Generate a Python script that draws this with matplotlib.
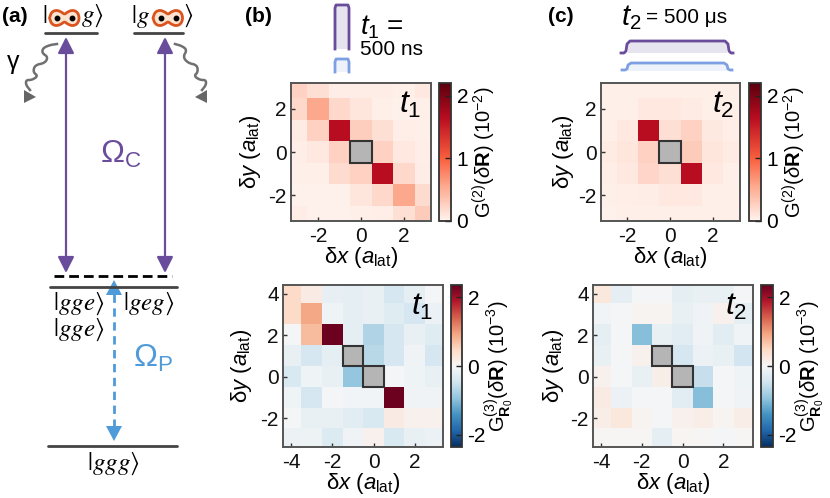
import numpy as np
import matplotlib
matplotlib.use('Agg')
import matplotlib.pyplot as plt
from matplotlib.colors import LinearSegmentedColormap
from matplotlib.patches import Polygon, Rectangle

plt.rcParams['font.family'] = ['Liberation Sans', 'DejaVu Sans']
plt.rcParams['mathtext.fontset'] = 'custom'
plt.rcParams['mathtext.rm'] = 'Liberation Sans'
plt.rcParams['mathtext.it'] = 'Liberation Sans:italic'
plt.rcParams['mathtext.bf'] = 'Liberation Sans:bold'
plt.rcParams['axes.unicode_minus'] = False

W, H = 830, 498
n = np.nan

# heatmap values, rows from top to bottom
g2_t1 = [[.25, .15, .05, .05, .05, .03, .08],
         [.20, .55, .20, .10, .03, .02, .03],
         [.06, .25, 1.65, .28, .15, .04, .03],
         [.04, .08, .25, n, .25, .08, .04],
         [.03, .03, .18, .25, 1.65, .20, .05],
         [.02, .02, .02, .10, .20, .55, .18],
         [.05, .02, .02, .03, .04, .15, .30]]
g2_t2 = [[.03, .03, .03, .03, .03, .03, .03],
         [.03, .03, .08, .08, .06, .03, .03],
         [.03, .08, 1.65, .15, .25, .07, .04],
         [.06, .10, .25, n, .30, .10, .06],
         [.04, .08, .22, .15, 1.65, .08, .03],
         [.03, .04, .05, .08, .08, .03, .03],
         [.02, .03, .03, .03, .03, .03, .03]]
g3_t1 = [[.45, .20, -.20, -.22, -.18, -.40, -.22, -.03],
         [.45, .90, -.10, -.22, -.18, -.28, -.40, -.14],
         [-.02, .75, 2.3, -.22, -.70, -.40, -.18, -.28],
         [-.18, -.40, -.22, n, -.65, -.40, -.09, -.40],
         [-.36, -.10, -.18, -.90, n, -.03, -.10, -.18],
         [-.10, -.40, -.02, -.07, -.07, 2.3, -.09, -.09],
         [-.02, -.18, -.18, -.25, -.36, .20, .10, .10],
         [-.14, -.12, -.32, -.09, .10, -.36, -.18, -.14]]
g3_t2 = [[.25, -.22, -.02, -.02, -.22, -.18, -.18, -.03],
         [-.07, -.02, .06, .06, -.18, -.09, .10, -.22],
         [-.22, -.02, -1.0, -.18, -.25, -.09, -.25, -.09],
         [-.18, -.05, .10, n, -.40, -.14, -.18, -.45],
         [.10, -.03, -.18, .13, n, -.55, -.05, -.10],
         [.20, -.14, -.02, -.05, -.27, -1.0, -.03, -.09],
         [.16, .25, .06, -.03, .10, .16, .06, .16],
         [.03, .02, .02, -.22, .05, .03, -.05, .03]]

g2_ticks = [-2, 0, 2]
g3_xticks = [-4, -2, 0, 2]
g3_yticks = [-2, 0, 2, 4]

PURPLE = '#6a4c9c'
BLUE = '#4f9bd9'
PULSE_BLUE = '#7f9fe3'
LEVEL = '#444444'
SPINE = '#555555'

reds = LinearSegmentedColormap.from_list('g2', [(0, '#fff3ee'), (.25, '#fda98e'), (.45, '#f9603f'),
                                               (.75, '#b80c20'), (1, '#5a000d')])


def px_axes(fig, l, t, r, b, **kw):
    return fig.add_axes([l / W, 1 - b / H, (r - l) / W, (b - t) / H], **kw)


def smooth(pts, k=3):
    # corner cutting so the hand read outlines look round
    pts = np.array(pts, float)
    for _ in range(k):
        q = pts[:-1] * .75 + pts[1:] * .25
        r = pts[:-1] * .25 + pts[1:] * .75
        pts = np.vstack([pts[:1], np.column_stack([q, r]).reshape(-1, 2), pts[-1:]])
    return pts


def heatmap(fig, box, cbox, data, cmap, vmin, vmax, xlim, ylim, extent, xticks, yticks, cticks, gray,
            clabel, clabel_x, ylabel_x, xlabel_y):
    l, t, r, b = box
    ax = px_axes(fig, *box)
    arr = np.array(data, float)
    im = ax.imshow(arr, cmap=cmap, vmin=vmin, vmax=vmax, extent=extent, interpolation='nearest', aspect='auto')
    ax.set_xlim(*xlim)
    ax.set_ylim(*ylim)
    ax.set_xticks(xticks)
    ax.set_yticks(yticks)
    ax.tick_params(direction='in', length=3, width=1, labelsize=15, color='#333333', labelcolor='#111111')
    ax.tick_params(axis='x', pad=4)
    ax.tick_params(axis='y', pad=3)
    for s in ax.spines.values():
        s.set_color(SPINE)
        s.set_linewidth(1.4)
    for gx, gy in gray:
        ax.add_patch(Rectangle((gx - .5, gy - .5), 1, 1, fc='#b5b5b5', ec='#333333', lw=1.5, zorder=3))
    fig.text((l + r) / 2 / W, 1 - xlabel_y / H, r'$\mathrm{\delta}x\ (a_{\mathrm{lat}})$', fontsize=16,
             ha='center', va='center')
    fig.text(ylabel_x / W, 1 - (t + b) / 2 / H, r'$\mathrm{\delta}y\ (a_{\mathrm{lat}})$', fontsize=16,
             rotation=90, ha='center', va='center')
    cax = px_axes(fig, *cbox)
    cb = fig.colorbar(im, cax=cax, ticks=cticks)
    cb.ax.tick_params(direction='in', length=4, width=1, labelsize=15, pad=4, color='#222222')
    cb.outline.set_edgecolor('#333333')
    cb.outline.set_linewidth(1.3)
    fig.text(clabel_x / W, 1 - (t + b) / 2 / H, clabel, rotation=90, ha='center', va='center', fontsize=14.5)
    return ax


fig = plt.figure(figsize=(W / 100, H / 100), dpi=100)

g2_label = r'$\mathrm{G}^{(2)}(\delta\mathbf{R})\ (10^{-2})$'
g3_label = r'$\mathrm{G}^{(3)}_{\mathbf{R}_0}(\delta\mathbf{R})\ (10^{-3})$'
heatmap(fig, (291, 83, 431, 221), (439, 83, 451, 221), g2_t1, reds, 0, 2.2, (-3.25, 3.25), (-3.2, 3.2),
        (-3.5, 3.5, -3.5, 3.5), g2_ticks, g2_ticks, [0, 1, 2], [(0, 0)], g2_label, 484, 250, 258)
heatmap(fig, (601, 83, 740, 221), (749, 83, 761, 221), g2_t2, reds, 0, 2.2, (-3.23, 3.28), (-3.2, 3.2),
        (-3.5, 3.5, -3.5, 3.5), g2_ticks, g2_ticks, [0, 1, 2], [(0, 0)], g2_label, 794, 563, 258)
heatmap(fig, (283, 285, 443, 447), (451, 285, 462, 447), g3_t1, 'RdBu_r', -2.35, 2.35, (-4.4, 3.37), (-3.39, 4.42),
        (-4.5, 3.5, -3.5, 4.5), g3_xticks, g3_yticks, [-2, 0, 2], [(-1, 1), (0, 0)], g3_label, 499, 241, 483)
heatmap(fig, (593, 285, 753, 447), (761, 285, 773, 447), g3_t2, 'RdBu_r', -2.35, 2.35, (-4.39, 3.45), (-3.39, 4.42),
        (-4.5, 3.5, -3.5, 4.5), g3_xticks, g3_yticks, [-2, 0, 2], [(-1, 1), (0, 0)], g3_label, 810, 553, 483)

# overlay in pixel coordinates for the schematic and annotations
ov = fig.add_axes([0, 0, 1, 1], zorder=5)
ov.set_xlim(0, W)
ov.set_ylim(H, 0)
ov.axis('off')
ov.patch.set_alpha(0)

for s, x, y in [('(a)', 2, 16), ('(b)', 245, 16), ('(c)', 548, 16)]:
    ov.text(x, y, s, fontsize=15, fontweight='bold', va='center', ha='left')

# levels
for x0, x1, y in [(45, 97, 33), (134, 183, 33), (50, 177, 287), (48, 177, 446)]:
    ov.plot([x0, x1], [y, y], color=LEVEL, lw=2, solid_capstyle='round')
ov.plot([54, 172], [276, 276], color='black', lw=2, dashes=(3.5, 1.8))

# transitions
for x in [66, 165]:
    ov.annotate('', xy=(x, 37), xytext=(x, 273),
                arrowprops=dict(arrowstyle='<|-|>,head_length=.75,head_width=.38', color=PURPLE, lw=1.6,
                                shrinkA=0, shrinkB=0, mutation_scale=13))
ov.plot([114, 114], [294, 430], color=BLUE, lw=2, dashes=(3, 2))
for tip, base in [(280, 295), (441, 426)]:
    ov.add_patch(Polygon([(114, tip), (106, base), (122, base)], fc=BLUE, ec='none'))

# decay
wave_l = [(57, 44), (50, 45), (43, 48), (42, 53), (48, 57), (45, 63), (35, 65), (33, 72), (38, 76), (32, 80), (26, 80), (26, 85), (30, 90)]
wave_r = [(175, 44), (182, 46), (187, 50), (183, 57), (188, 63), (197, 65), (198, 72), (194, 76), (200, 80), (206, 80), (206, 85), (202, 90)]
for pts in [wave_l, wave_r]:
    p = smooth(pts, 2)
    ov.plot(p[:, 0], p[:, 1], color='#707070', lw=1.8)
ov.add_patch(Polygon([(24, 90), (36, 97), (24, 103)], fc='#666666', ec='none'))
ov.add_patch(Polygon([(207, 90), (195, 97), (207, 103)], fc='#666666', ec='none'))
ov.text(13, 62, 'γ', fontsize=18, ha='center', va='center')

# dimer blobs on the top kets
blob = [(-15, 0), (-13, -6), (-8, -8), (-3, -6), (0, -3.5), (3, -6), (8, -8), (13, -6), (15, 0),
        (13, 6), (8, 8), (3, 6), (0, 3.5), (-3, 6), (-8, 8), (-13, 6), (-15, 0)]
for cx in [64.5, 168]:
    p = smooth(blob) + [cx, 18]
    ov.add_patch(Polygon(p, fc='#fbe3d0', ec='#d9541e', lw=2))
    ov.plot([cx - 7.5, cx + 7.5], [18, 18], 'o', color='black', ms=3.2)

KET = dict(math_fontfamily='stix', fontsize=18, va='center', ha='left')
ov.text(42, 16, r'$|$', **KET)
ov.text(81, 16, r'$g\rangle$', **KET)
ov.text(131, 16, r'$|g$', **KET)
ov.text(183, 16, r'$\rangle$', **KET)
ov.text(53, 304, r'$|gge\rangle$', **KET)
ov.text(123, 304, r'$|geg\rangle$', **KET)
ov.text(53, 330, r'$|gge\rangle$', **KET)
ov.text(87, 464, r'$|ggg\rangle$', **KET)

ov.text(100, 154, r'$\Omega_{\mathrm{C}}$', color=PURPLE, fontsize=23, va='center', ha='left')
ov.text(133, 358, r'$\Omega_{\mathrm{P}}$', color=BLUE, fontsize=23, va='center', ha='left')

# pulses
ov.fill_between([335, 348], [5, 5], [49, 49], color='#e6e4ef', lw=0)
ov.plot([335, 335, 336, 348, 349, 349], [49, 8, 5, 5, 8, 49], color=PURPLE, lw=2)
ov.fill_between([335, 348], [60, 60], [72, 72], color='#eef3fb', lw=0)
ov.plot([335, 335, 336, 348, 349, 349], [72, 62, 59, 59, 62, 72], color=PULSE_BLUE, lw=2)

ov.fill_between([628, 727], [42, 42], [53, 53], color='#e6e4ef', lw=0)
ov.plot([621, 624, 626, 627, 630, 725, 728, 729, 731, 733], [53, 53, 51, 44, 41, 41, 44, 51, 53, 53], color=PURPLE, lw=2)
ov.fill_between([628, 727], [64, 64], [71, 71], color='#eef3fb', lw=0)
ov.plot([622, 625, 627, 628, 631, 724, 727, 728, 730, 732], [70, 70, 69, 65, 63, 63, 65, 69, 70, 70], color=PULSE_BLUE, lw=2)

ov.text(360, 27, r'$t_1$ =', fontsize=20, va='center', ha='left')
ov.text(360, 49, '500 ns', fontsize=15, va='center', ha='left')
ov.text(621, 18, r'$t_2$', fontsize=21, va='center', ha='left')
ov.text(646, 17, '= 500 μs', fontsize=15, va='center', ha='left')

for s, x, y in [(r'$t_1$', 399, 105), (r'$t_2$', 712, 105), (r'$t_1$', 411, 307), (r'$t_2$', 725, 307)]:
    ov.text(x, y, s, fontsize=23, va='center', ha='left')

fig.savefig('out.png', dpi=100)
